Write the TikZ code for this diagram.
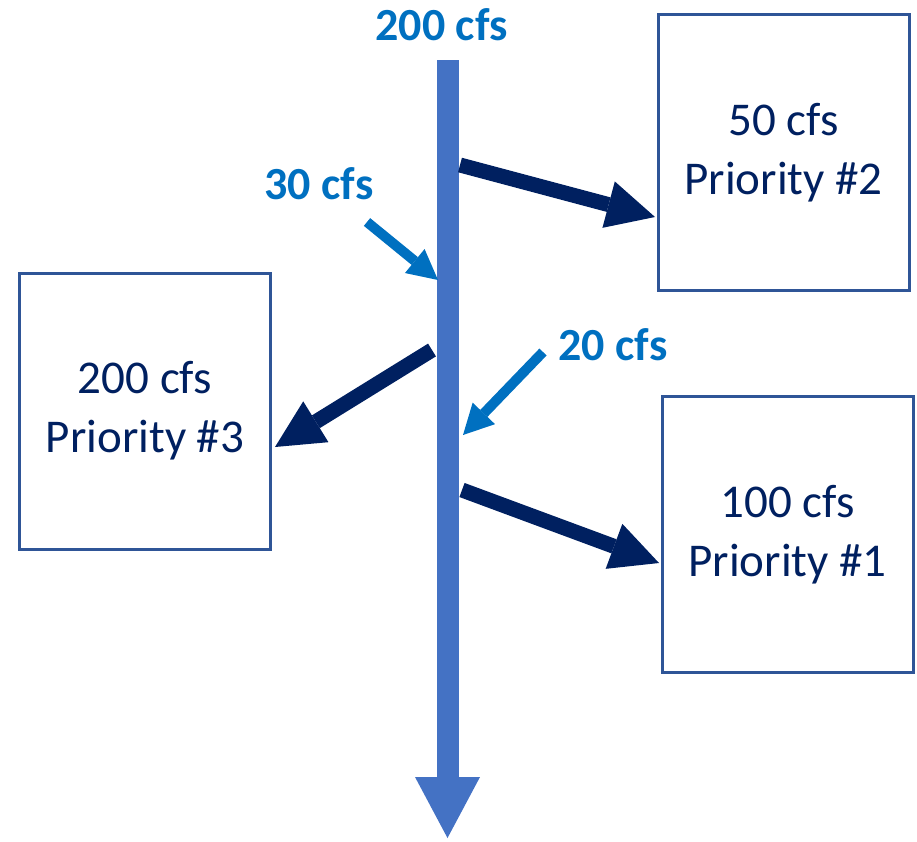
\documentclass[tikz,border=0pt]{standalone}
\usepackage{fontspec}
\setmainfont{Carlito}
\usetikzlibrary{arrows.meta}
\definecolor{river}{HTML}{4472C4}
\definecolor{navy}{HTML}{002060}
\definecolor{inflow}{HTML}{0070C0}
\definecolor{boxline}{HTML}{2F5597}
\tikzset{
  userbox/.style={draw=boxline, line width=3pt, fill=white, inner sep=0pt,
    minimum width=251pt, minimum height=276pt, align=center, text=navy,
    font=\fontsize{47}{59}\selectfont},
  flowlabel/.style={anchor=base, inner sep=0pt, text=inflow,
    font=\fontsize{46}{55}\selectfont\bfseries},
  diversion/.style={draw=navy, line width=15pt,
    -{Triangle[length=48pt,width=48pt,line width=0pt]}},
  returnflow/.style={draw=inflow, line width=10pt,
    -{Triangle[length=30pt,width=31pt,line width=0pt]}},
  stream/.style={draw=river, line width=22pt,
    -{Triangle[length=61pt,width=65pt,line width=0pt]}}
}
\begin{document}
\begin{tikzpicture}[x=1pt,y=-1pt]
\useasboundingbox (0,0) rectangle (917,841);

% water users
\node[userbox] (p2) at (783.5,152.5) {50 cfs\\Priority \#2};
\node[userbox] (p3) at (145,411) {200 cfs\\Priority \#3};
\node[userbox] (p1) at (787.5,534.5) {100 cfs\\Priority \#1};

% main stream
\coordinate (top) at (447.5,60);
\coordinate (bottom) at (447.5,838);
\draw[stream] (top) -- (bottom);

% diversions to users
\coordinate (d2) at (460,165);
\coordinate (t2) at (655,217);
\coordinate (d3) at (432,350);
\coordinate (t3) at (275,447);
\coordinate (d1) at (462,490);
\coordinate (t1) at (659,563);
\draw[diversion] (d2) -- (t2);
\draw[diversion] (d3) -- (t3);
\draw[diversion] (d1) -- (t1);

% return flows into the stream
\coordinate (r30) at (367,222);
\coordinate (j30) at (438,280);
\coordinate (r20) at (543,352);
\coordinate (j20) at (463,435);
\draw[returnflow] (r30) -- (j30);
\draw[returnflow] (r20) -- (j20);

% flow labels
\node[flowlabel] (lin) at (441.5,40) {200 cfs};
\node[flowlabel] (l30) at (319,199) {30 cfs};
\node[flowlabel] (l20) at (613,360) {20 cfs};
\end{tikzpicture}
\end{document}
